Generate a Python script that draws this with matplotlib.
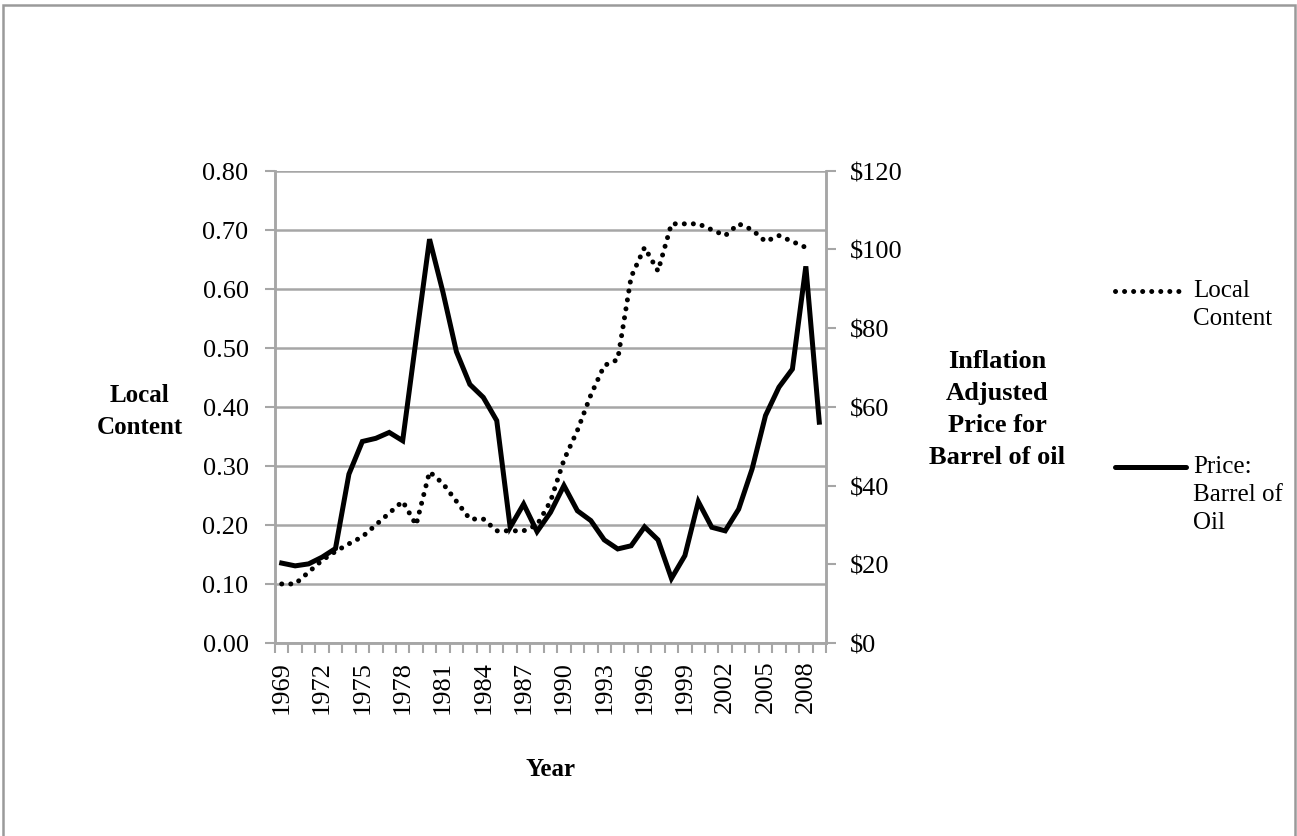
import numpy as np
import matplotlib
matplotlib.use('Agg')
from matplotlib import pyplot as plt
from matplotlib.lines import Line2D
from matplotlib.patches import Rectangle
from matplotlib.ticker import FixedLocator, FuncFormatter

years = list(range(1969, 2010))

# local content share, no value for 2009
local_content = [0.10, 0.10, 0.12, 0.14, 0.155, 0.168, 0.18, 0.20, 0.22, 0.24,
                 0.20, 0.29, 0.27, 0.24, 0.21, 0.21, 0.19, 0.19, 0.19, 0.20,
                 0.24, 0.31, 0.36, 0.42, 0.47, 0.48, 0.62, 0.67, 0.63, 0.71,
                 0.71, 0.71, 0.70, 0.69, 0.71, 0.70, 0.68, 0.69, 0.68, 0.67,
                 np.nan]

# inflation adjusted oil price, USD per barrel
oil_price = [20.3, 19.6, 20.1, 21.8, 24.0, 42.9, 51.2, 52.0, 53.5, 51.4,
             77.2, 102.6, 89.1, 74.0, 65.7, 62.4, 56.5, 29.4, 35.3, 28.3,
             33.2, 40.0, 33.6, 31.1, 26.2, 23.9, 24.7, 29.5, 26.2, 16.4,
             22.2, 35.9, 29.4, 28.5, 34.0, 44.2, 57.8, 65.0, 69.6, 95.7,
             56.1]

local_ticks = [0.0, 0.1, 0.2, 0.3, 0.4, 0.5, 0.6, 0.7, 0.8]
price_ticks = [0, 20, 40, 60, 80, 100, 120]

GRAY = '#a6a6a6'
W, H = 1297, 837
plt.rcParams['font.family'] = ['Liberation Serif', 'DejaVu Serif']
FS = 19
FS_BOLD = 18

fig = plt.figure(figsize=(W / 100, H / 100), dpi=100, facecolor='w')
ax = fig.add_axes([275 / W, 1 - 644 / H, 551 / W, 472.3 / H])
ax2 = ax.twinx()

x = np.arange(len(years))
dot_style = dict(color='black', lw=3.6, linestyle=(0, (0.01, 1.8)),
                 dash_capstyle='round')
solid_style = dict(color='black', lw=3.6, solid_joinstyle='miter')

ax.plot(x, local_content, **dot_style)
ax2.plot(x, oil_price, **solid_style)

# category axis: ticks between years, labels every third year
ax.set_xlim(-0.5, len(years) - 0.5)
ax.xaxis.set_major_locator(FixedLocator(x[::3]))
ax.set_xticklabels([str(y) for y in years[::3]], rotation=90, fontsize=FS)
ax.xaxis.set_minor_locator(FixedLocator(np.arange(-0.5, len(years), 1.0)))
ax.tick_params(axis='x', which='major', length=0, pad=12)
ax.tick_params(axis='x', which='minor', length=7, width=1.5, color=GRAY)

ax.set_ylim(0, 0.8)
ax.set_yticks(local_ticks)
ax.set_yticklabels(['%.2f' % v for v in local_ticks], fontsize=FS)
ax.tick_params(axis='y', length=7, width=1.5, color=GRAY, pad=12)
ax.grid(axis='y', color=GRAY, lw=1.8)
ax.set_axisbelow(True)

ax2.set_ylim(0, 120)
ax2.set_yticks(price_ticks)
ax2.yaxis.set_major_formatter(FuncFormatter(lambda v, p: '$%d' % v))
ax2.tick_params(axis='y', length=7, width=1.5, color=GRAY, pad=10, labelsize=FS)

for a in (ax, ax2):
    a.spines['top'].set_visible(False)
    for side in ('left', 'right', 'bottom'):
        a.spines[side].set_color(GRAY)
        a.spines[side].set_linewidth(1.8)

ax.set_ylabel('Local\nContent', rotation=0, fontsize=FS_BOLD, fontweight='bold',
              ha='center', va='center', linespacing=1.5)
ax.yaxis.set_label_coords((140 - 275) / 551, (644 - 412) / 472.3)
ax2.set_ylabel('Inflation\nAdjusted\nPrice for\nBarrel of oil', rotation=0,
               fontsize=FS_BOLD + 1, fontweight='bold', ha='center', va='center',
               linespacing=1.5)
ax2.yaxis.set_label_coords((997 - 275) / 551, (644 - 410) / 472.3)
ax.set_xlabel('Year', fontsize=FS_BOLD, fontweight='bold', va='center')
ax.xaxis.set_label_coords(0.5, (644 - 770) / 472.3)

# legend keys drawn in figure space
fig.add_artist(Line2D([1115 / W, 1182 / W], [1 - 292 / H, 1 - 292 / H],
                      transform=fig.transFigure, **dot_style))
fig.add_artist(Line2D([1115 / W, 1186 / W], [1 - 468 / H, 1 - 468 / H],
                      transform=fig.transFigure, solid_capstyle='round',
                      **solid_style))
fig.text(1193 / W, 1 - 280 / H, 'Local\nContent', fontsize=FS - 1, va='top',
         ha='left', linespacing=1.35)
fig.text(1193 / W, 1 - 456 / H, 'Price:\nBarrel of\nOil', fontsize=FS - 1,
         va='top', ha='left', linespacing=1.35)

# chart area border
fig.add_artist(Rectangle((3 / W, -0.05), 1292 / W, 1 - 6 / H + 0.05,
                         transform=fig.transFigure, fill=False,
                         edgecolor='#9a9a9a', lw=1.8))

fig.savefig('out.png', dpi=100, facecolor='w')
